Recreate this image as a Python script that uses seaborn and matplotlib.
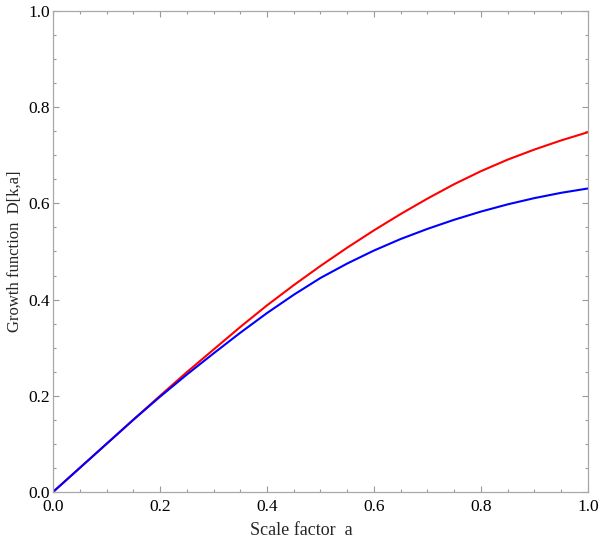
import numpy as np
import pandas as pd
import seaborn as sns
import matplotlib.pyplot as plt
from matplotlib.ticker import MultipleLocator

# values
scale_a = [0.0, 0.05, 0.1, 0.15, 0.2, 0.25, 0.3, 0.35, 0.4, 0.45, 0.5,
           0.55, 0.6, 0.65, 0.7, 0.75, 0.8, 0.85, 0.9, 0.95, 1.0]
growth_red = [0.0, 0.050, 0.100, 0.150, 0.200, 0.249, 0.296, 0.343, 0.388, 0.430, 0.470,
              0.508, 0.544, 0.578, 0.610, 0.640, 0.667, 0.691, 0.712, 0.731, 0.748]
growth_blue = [0.0, 0.050, 0.100, 0.150, 0.198, 0.244, 0.288, 0.331, 0.372, 0.410, 0.445,
               0.475, 0.502, 0.526, 0.547, 0.566, 0.583, 0.598, 0.611, 0.622, 0.631]

df = pd.DataFrame({
    'a': scale_a * 2,
    'D': growth_red + growth_blue,
    'curve': ['red'] * len(scale_a) + ['blue'] * len(scale_a),
})

sns.set_style('white')
plt.rcParams['font.family'] = ['Liberation Serif', 'DejaVu Serif']

fig = plt.figure(figsize=(5.99, 5.41), dpi=100)
ax = fig.add_axes([0.0885, 0.0906, 0.8931, 0.8891])

sns.lineplot(data=df, x='a', y='D', hue='curve', palette={'red': '#ff0000', 'blue': '#0000ff'},
             linewidth=1.5, legend=False, ax=ax)

ax.set_xlim(0, 1)
ax.set_ylim(0, 1)
ax.xaxis.set_major_locator(MultipleLocator(0.2))
ax.yaxis.set_major_locator(MultipleLocator(0.2))
ax.xaxis.set_minor_locator(MultipleLocator(0.05))
ax.yaxis.set_minor_locator(MultipleLocator(0.05))
ax.xaxis.set_major_formatter(lambda v, p: f'{v:.1f}')
ax.yaxis.set_major_formatter(lambda v, p: f'{v:.1f}')

for s in ax.spines.values():
    s.set_color('#a8a8a8')
    s.set_linewidth(0.9)

ax.tick_params(which='both', direction='in', top=True, right=True, bottom=True, left=True,
               color='#999999', width=0.8, labelsize=12.5, labelcolor='black')
ax.tick_params(which='major', length=4, pad=2)
ax.tick_params(axis='x', which='major', pad=5)
ax.tick_params(which='minor', length=2.3)

ax.set_xlabel('Scale factor  a', fontsize=13)
ax.xaxis.set_label_coords(0.465, -0.062)
ax.set_ylabel('Growth function  D[k,a]', fontsize=12, labelpad=4)

fig.savefig('out.png', dpi=100)
